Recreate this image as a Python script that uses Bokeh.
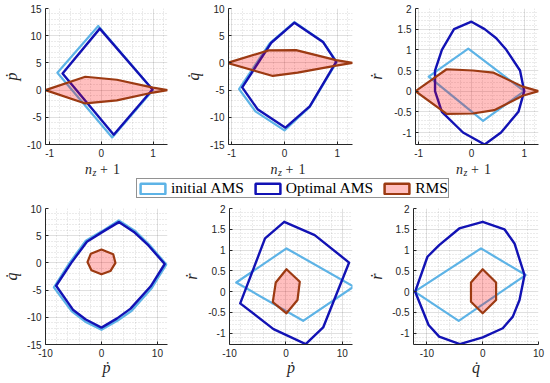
import math
from bokeh.plotting import figure
from bokeh.models import Range1d, FixedTicker, Legend, LegendItem, CustomJSTickFormatter
from bokeh.core.properties import value
from bokeh.layouts import column, row
from bokeh.embed import file_html
from bokeh.resources import INLINE

# ---------------- data ----------------
# top-left: n_z+1 vs p_dot
tl_init_x = [-0.06, 1.00, 0.21, -0.85]
tl_init_y = [11.8, 0.0, -8.7, 3.2]
tl_opt_x = [-0.03, 0.99, 0.24, -0.75]
tl_opt_y = [11.3, 0.1, -8.2, 3.05]
tl_rms_x = [-1.08, -0.31, 0.30, 1.00, 1.28, 1.00, 0.30, -0.31]
tl_rms_y = [0.0, 2.45, 1.9, 0.45, 0.0, -0.45, -1.9, -2.45]

# top-middle: n_z+1 vs q_dot
tm_init_x = [0.19, 0.73, 0.99, 0.48, 0.00, -0.55, -0.86, -0.28]
tm_init_y = [7.5, 3.9, 0.2, -8.1, -12.4, -8.9, -4.8, 3.6]
tm_opt_x = [0.19, 0.73, 0.98, 0.48, 0.02, -0.51, -0.80, -0.25]
tm_opt_y = [7.4, 3.85, 0.2, -8.0, -11.9, -8.5, -4.5, 3.7]
tm_rms_x = [-1.08, -0.30, 0.22, 0.98, 1.29, 0.98, 0.25, -0.22]
tm_rms_y = [0.0, 2.3, 2.35, 0.5, 0.0, -0.5, -1.8, -2.4]

# top-right: n_z+1 vs r_dot
tr_init_x = [-0.06, 1.00, 0.22, -0.81]
tr_init_y = [1.03, 0.0, -0.72, 0.35]
tr_opt_x = [0.00, 0.25, 0.47, 0.66, 0.92, 1.00, 0.89, 0.56, 0.25, -0.16, -0.56, -0.69, -0.69, -0.56, -0.33]
tr_opt_y = [1.68, 1.50, 1.28, 1.00, 0.50, 0.00, -0.50, -1.00, -1.29, -1.00, -0.50, 0.00, 0.50, 1.00, 1.50]
tr_rms_x = [-1.06, -0.47, 0.03, 0.41, 0.97, 1.27, 0.97, 0.43, 0.03, -0.47]
tr_rms_y = [0.0, 0.53, 0.50, 0.45, 0.11, 0.0, -0.11, -0.46, -0.54, -0.55]

# bottom-left: p_dot vs q_dot
bl_init_x = [3.1, 6.0, 8.6, 11.6, 9.0, 5.4, 2.9, 0.0, -2.9, -5.3, -8.5, -5.7, -2.8, 0.2]
bl_init_y = [7.8, 5.9, 3.3, -0.3, -4.6, -8.8, -10.6, -12.3, -10.8, -8.9, -4.5, 0.0, 4.1, 5.9]
bl_opt_x = [3.1, 5.8, 8.4, 11.3, 8.8, 5.2, 2.8, 0.0, -2.8, -5.1, -8.1, -5.4, -2.6, 0.2]
bl_opt_y = [7.5, 5.7, 3.2, -0.2, -4.3, -8.4, -10.2, -11.9, -10.4, -8.6, -4.2, 0.0, 3.9, 5.7]
bl_rms_x = [0.0, 2.1, 2.5, 1.6, 0.0, -1.8, -2.5, -1.9]
bl_rms_y = [2.45, 1.6, 0.0, -1.5, -2.1, -1.35, 0.15, 1.7]

# bottom-middle: p_dot vs r_dot
bm_init_x = [-8.8, 0.1, 12.0, 3.05]
bm_init_y = [0.22, 1.04, 0.12, -0.70]
bm_opt_x = [-0.3, 5.1, 11.2, 6.6, 3.5, -2.2, -8.1, -3.7]
bm_opt_y = [1.68, 1.36, 0.70, -0.86, -1.26, -0.90, -0.28, 1.28]
bm_rms_x = [0.1, 2.46, 2.05, 0.1, -2.33, -1.8]
bm_rms_y = [0.54, 0.24, -0.20, -0.52, -0.25, 0.22]

# bottom-right: q_dot vs r_dot
br_init_x = [-12.2, -0.3, 7.7, -4.3]
br_init_y = [0.0, 1.04, 0.4, -0.7]
br_opt_x = [0.0, 3.9, 5.7, 7.5, 6.6, 5.4, 3.6, 0.0, -4.1, -7.8, -9.7, -12.1, -9.9, -7.8, -4.2]
br_opt_y = [1.68, 1.5, 1.16, 0.4, -0.2, -0.6, -0.88, -1.1, -1.26, -1.08, -0.8, 0.0, 0.84, 1.12, 1.52]
br_rms_x = [0.0, 2.4, 2.4, 0.0, -2.1, -2.1]
br_rms_y = [0.54, 0.22, -0.20, -0.52, -0.24, 0.22]

# ticks
nz_ticks = [-1, 0, 1]
pq_xticks = [-10, 0, 10]
p_yticks = [-10, -5, 0, 5, 10, 15]
q_yticks = [-15, -10, -5, 0, 5, 10]
r_yticks = [-1, -0.5, 0, 0.5, 1, 1.5, 2]

legend_labels = ["initial AMS", "Optimal AMS", "RMS"]

# ---------------- style ----------------
C_INIT = "#5DB3E6"
C_OPT = "#1212B4"
C_RMS = "#9C3A12"
AX = "#262626"
SANS = "Liberation Sans"
SERIF = "Liberation Serif"

fmt = CustomJSTickFormatter(code="return String(Math.round(tick*1000)/1000);")


def minor_list(rng, step, majors):
    k0 = math.ceil(rng[0] / step - 1e-9)
    k1 = math.floor(rng[1] / step + 1e-9)
    out = []
    for k in range(k0, k1 + 1):
        v = round(k * step, 6)
        if all(abs(v - m) > 1e-6 for m in majors):
            out.append(v)
    return out


def panel(w, h, bl, br, bt, bb, xr, yr, xt, yt, xs, ys, xlab, ylab, xls, yls):
    p = figure(width=w, height=h, x_range=Range1d(*xr), y_range=Range1d(*yr),
               output_backend="svg", toolbar_location=None,
               min_border_left=bl, min_border_right=br,
               min_border_top=bt, min_border_bottom=bb)
    p.outline_line_color = None
    p.background_fill_color = "white"
    p.border_fill_color = "white"
    for ax, ticks, rng, step, grid in ((p.xaxis[0], xt, xr, xs, p.xgrid[0]),
                                        (p.yaxis[0], yt, yr, ys, p.ygrid[0])):
        tk = FixedTicker(ticks=ticks, minor_ticks=minor_list(rng, step, ticks))
        ax.ticker = tk
        grid.ticker = tk
        ax.formatter = fmt
        ax.axis_line_color = AX
        ax.axis_line_width = 1
        ax.major_tick_in = 3
        ax.major_tick_out = 0
        ax.major_tick_line_color = AX
        ax.minor_tick_in = 0
        ax.minor_tick_out = 0
        ax.major_label_text_font = SANS
        ax.major_label_text_font_size = "10px"
        ax.major_label_text_color = AX
        ax.axis_label_text_font = SERIF
        ax.axis_label_text_font_style = "italic"
        ax.axis_label_text_font_size = "16px"
        ax.axis_label_text_color = AX
        grid.grid_line_color = AX
        grid.grid_line_alpha = 0.14
        grid.minor_grid_line_color = AX
        grid.minor_grid_line_alpha = 0.18
        grid.minor_grid_line_dash = "1 2"
    p.xaxis[0].major_label_standoff = 4
    p.yaxis[0].major_label_standoff = 4
    if xlab:
        p.xaxis[0].axis_label = xlab
        p.xaxis[0].axis_label_standoff = xls
    p.yaxis[0].axis_label = ylab
    p.yaxis[0].axis_label_standoff = yls
    return p


def draw(p, ix, iy, ox, oy, rx, ry):
    p.patch(ix, iy, fill_color=None, line_color=C_INIT, line_width=2.2, line_join="round")
    p.patch(ox, oy, fill_color=None, line_color=C_OPT, line_width=2.4, line_join="round")
    p.patch(rx, ry, fill_color="red", fill_alpha=0.25, line_color=C_RMS, line_width=2.2,
            line_join="round")


def strip(w, h):
    s = figure(width=w, height=h, x_range=Range1d(0, w), y_range=Range1d(0, h),
               output_backend="svg", toolbar_location=None, x_axis_type=None,
               y_axis_type=None, min_border=0)
    s.outline_line_color = None
    s.grid.visible = False
    return s


# geometry (pixels)
TW = [180, 185, 185]
BLB = [42, 48, 48]
BRB = [13, 13, 12]
FW = [TW[i] - BLB[i] - BRB[i] for i in range(3)]
YLS_TOP = [4, 5, 6]
YLS_BOT = [4, 5, 4]

tl_xr, tl_yr = (-1.08, 1.28), (-10, 15)
tm_xr, tm_yr = (-1.06, 1.29), (-15, 10)
tr_xr, tr_yr = (-1.06, 1.27), (-1.29, 2)
bl_xr, bl_yr = (-10, 11.8), (-15, 10)
bm_xr, bm_yr = (-10, 11.8), (-1.27, 2)
br_xr, br_yr = (-12.4, 10), (-1.27, 2)

H_TOP, BT_TOP, BB_TOP = 160, 8, 16
H_LAB = 18
H_LEG = 21
H_BOT, BT_BOT, BB_BOT = 183, 9, 38

f1 = panel(TW[0], H_TOP, BLB[0], BRB[0], BT_TOP, BB_TOP, tl_xr, tl_yr, nz_ticks, p_yticks,
           0.2, 1, None, "ṗ", 0, YLS_TOP[0])
draw(f1, tl_init_x, tl_init_y, tl_opt_x, tl_opt_y, tl_rms_x, tl_rms_y)

f2 = panel(TW[1], H_TOP, BLB[1], BRB[1], BT_TOP, BB_TOP, tm_xr, tm_yr, nz_ticks, q_yticks,
           0.2, 1, None, "q̇", 0, YLS_TOP[1])
draw(f2, tm_init_x, tm_init_y, tm_opt_x, tm_opt_y, tm_rms_x, tm_rms_y)

f3 = panel(TW[2], H_TOP, BLB[2], BRB[2], BT_TOP, BB_TOP, tr_xr, tr_yr, nz_ticks, r_yticks,
           0.2, 0.1, None, "ṙ", 0, YLS_TOP[2])
draw(f3, tr_init_x, tr_init_y, tr_opt_x, tr_opt_y, tr_rms_x, tr_rms_y)

f4 = panel(TW[0], H_BOT, BLB[0], BRB[0], BT_BOT, BB_BOT, bl_xr, bl_yr, pq_xticks, q_yticks,
           2, 1, "ṗ", "q̇", -1, YLS_BOT[0])
draw(f4, bl_init_x, bl_init_y, bl_opt_x, bl_opt_y, bl_rms_x, bl_rms_y)

f5 = panel(TW[1], H_BOT, BLB[1], BRB[1], BT_BOT, BB_BOT, bm_xr, bm_yr, pq_xticks, r_yticks,
           2, 0.1, "ṗ", "ṙ", -1, YLS_BOT[1])
draw(f5, bm_init_x, bm_init_y, bm_opt_x, bm_opt_y, bm_rms_x, bm_rms_y)

f6 = panel(TW[2], H_BOT, BLB[2], BRB[2], BT_BOT, BB_BOT, br_xr, br_yr, pq_xticks, r_yticks,
           2, 0.1, "q̇", "ṙ", -1, YLS_BOT[2])
draw(f6, br_init_x, br_init_y, br_opt_x, br_opt_y, br_rms_x, br_rms_y)

W = sum(TW)

# strip with the "n_z + 1" axis labels of the top row
fx = strip(W, H_LAB)
cxs = [sum(TW[:i]) + BLB[i] + FW[i] / 2 for i in range(3)]
mid = H_LAB / 2 + 0.5
for txt, dx, dy, size, style in (("n", -20, 0, "14px", "italic"),
                                 ("z", -12.5, -3, "10px", "italic"),
                                 ("+", -5, 0, "14px", "normal"),
                                 ("1", 8, 0, "14px", "normal")):
    fx.text(x=[c + dx for c in cxs], y=[mid + dy] * 3, text=[txt] * 3,
            text_font=value(SERIF), text_font_style=style, text_font_size=size,
            text_color=AX, text_align="left", text_baseline="middle")

# strip with the legend
fl = strip(W, H_LEG)
r1 = fl.patch(tl_init_x, tl_init_y, fill_color=None, line_color=C_INIT, line_width=2.5)
r2 = fl.patch(tl_opt_x, tl_opt_y, fill_color=None, line_color=C_OPT, line_width=2.5)
r3 = fl.patch(tl_rms_x, tl_rms_y, fill_color="red", fill_alpha=0.25, line_color=C_RMS,
              line_width=2.5)
for r in (r1, r2, r3):
    r.visible = False
leg = Legend(items=[LegendItem(label=legend_labels[0], renderers=[r1]),
                    LegendItem(label=legend_labels[1], renderers=[r2]),
                    LegendItem(label=legend_labels[2], renderers=[r3])],
             orientation="horizontal", location=(136, 1),
             glyph_width=31, glyph_height=13, label_standoff=3, spacing=8,
             padding=0, margin=0, label_height=13,
             label_text_font=SERIF, label_text_font_size="15.5px", label_text_color="black",
             border_line_color=AX, border_line_width=1,
             background_fill_color="white", background_fill_alpha=1.0,
             inactive_fill_alpha=0.0)
fl.add_layout(leg, "center")

layout = column(row(f1, f2, f3), fx, fl, row(f4, f5, f6))

open("out.html", "w").write(file_html(layout, INLINE))
